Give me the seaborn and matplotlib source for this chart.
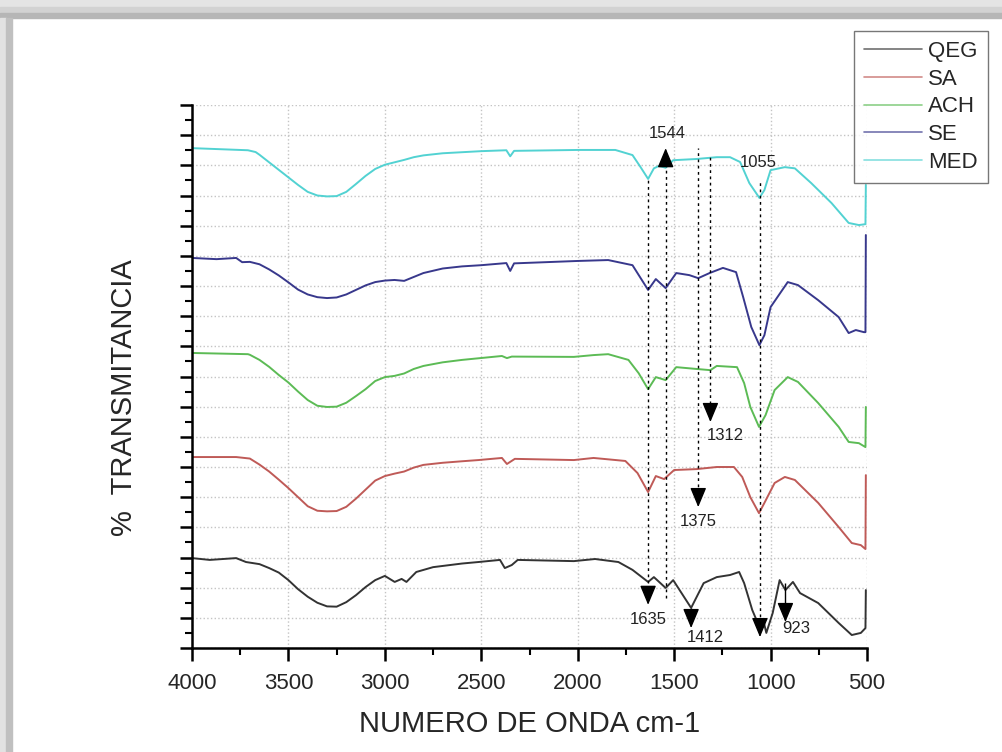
import pandas as pd
import matplotlib.pyplot as plt
import seaborn as sns
from matplotlib.patches import Rectangle
from matplotlib.ticker import MultipleLocator, NullFormatter

# FTIR spectra, values (stacked, arbitrary offset units)
qeg_x = [4000, 3908, 3771, 3720, 3700, 3650, 3600, 3550, 3500, 3450, 3400, 3350, 3300, 3250, 3200, 3150,
         3100, 3050, 3000, 2949, 2913, 2888, 2837, 2750, 2600, 2515, 2403, 2378, 2342, 2311, 2020, 1910,
         1789, 1716, 1635, 1605, 1544, 1505, 1412, 1347, 1279, 1210, 1163, 1137, 1095, 1062, 1048, 1038,
         1022, 989, 953, 923, 884, 847, 753, 647, 579, 532, 508, 506]
qeg_y = [2.98, 2.92, 2.98, 2.85, 2.83, 2.78, 2.65, 2.50, 2.25, 1.95, 1.70, 1.50, 1.38, 1.37, 1.52, 1.75,
         2.02, 2.25, 2.39, 2.19, 2.29, 2.19, 2.52, 2.68, 2.80, 2.85, 2.92, 2.65, 2.75, 2.92, 2.88, 2.95,
         2.85, 2.59, 2.19, 2.35, 1.99, 2.25, 1.33, 2.15, 2.35, 2.42, 2.52, 2.15, 1.26, 0.76, 0.66, 0.93,
         0.50, 1.16, 2.25, 1.92, 2.19, 1.82, 1.49, 0.83, 0.43, 0.50, 0.66, 1.92]

sa_x = [4000, 3771, 3700, 3650, 3600, 3550, 3500, 3450, 3400, 3350, 3300, 3250, 3200, 3150, 3100, 3050,
        3000, 2950, 2900, 2850, 2800, 2700, 2600, 2515, 2393, 2367, 2326, 2020, 1918, 1753, 1690, 1635,
        1595, 1552, 1500, 1384, 1279, 1190, 1147, 1105, 1060, 1032, 979, 926, 874, 753, 647, 579, 532,
        508, 506]
sa_y = [6.33, 6.33, 6.28, 6.08, 5.85, 5.58, 5.30, 5.00, 4.70, 4.55, 4.53, 4.54, 4.68, 4.95, 5.25, 5.55,
        5.70, 5.78, 5.85, 5.98, 6.07, 6.14, 6.19, 6.23, 6.30, 6.10, 6.27, 6.23, 6.30, 6.20, 5.80, 5.17,
        5.70, 5.60, 5.90, 5.93, 6.00, 6.00, 5.67, 5.00, 4.47, 4.81, 5.47, 5.67, 5.57, 4.81, 4.01, 3.48, 3.41,
        3.28, 5.73]

ach_x = [4000, 3710, 3700, 3650, 3600, 3550, 3500, 3450, 3400, 3350, 3300, 3250, 3200, 3150, 3100, 3050,
         3000, 2950, 2900, 2850, 2800, 2700, 2600, 2505, 2393, 2367, 2342, 2020, 1918, 1842, 1737, 1684,
         1635, 1595, 1544, 1489, 1384, 1312, 1279, 1174, 1137, 1105, 1060, 1026, 979, 911, 858, 753, 647,
         595, 542, 508, 506]
ach_y = [9.78, 9.74, 9.72, 9.55, 9.32, 9.05, 8.80, 8.50, 8.22, 8.03, 7.99, 8.00, 8.13, 8.35, 8.58, 8.85,
         8.98, 9.02, 9.10, 9.25, 9.35, 9.47, 9.55, 9.61, 9.68, 9.61, 9.66, 9.65, 9.71, 9.74, 9.55, 9.11,
         8.58, 8.98, 8.88, 9.31, 9.25, 9.21, 9.35, 9.31, 8.78, 7.99, 7.33, 7.72, 8.55, 8.98, 8.82, 8.12,
         7.33, 6.83, 6.79, 6.66, 7.99]

se_x = [4000, 3873, 3771, 3740, 3700, 3650, 3600, 3550, 3500, 3450, 3400, 3350, 3300, 3250, 3200, 3150,
        3100, 3050, 3000, 2950, 2900, 2850, 2800, 2700, 2600, 2500, 2370, 2350, 2330, 2000, 1842, 1716,
        1635, 1595, 1544, 1489, 1421, 1375, 1316, 1247, 1179, 1142, 1100, 1058, 1032, 1000, 911, 858, 753,
        647, 595, 558, 516, 508, 506]
se_y = [12.93, 12.89, 12.93, 12.79, 12.80, 12.72, 12.55, 12.35, 12.12, 11.88, 11.72, 11.63, 11.60, 11.62,
        11.72, 11.87, 12.02, 12.13, 12.18, 12.20, 12.17, 12.30, 12.43, 12.58, 12.65, 12.69, 12.76, 12.50,
        12.75, 12.83, 12.86, 12.69, 11.87, 12.23, 11.93, 12.43, 12.36, 12.26, 12.43, 12.60, 12.46, 11.63,
        10.64, 10.04, 10.37, 11.30, 12.13, 12.03, 11.53, 10.97, 10.44, 10.54, 10.47, 10.47, 13.69]

med_x = [4000, 3710, 3670, 3650, 3600, 3550, 3500, 3450, 3400, 3350, 3300, 3250, 3200, 3150, 3100, 3050,
         3000, 2950, 2900, 2850, 2800, 2700, 2500, 2370, 2350, 2330, 2000, 1805, 1716, 1674, 1635, 1605,
         1579, 1544, 1505, 1384, 1279, 1210, 1158, 1110, 1058, 1032, 1000, 926, 874, 789, 684, 595, 542,
         508, 506]
med_y = [16.57, 16.50, 16.44, 16.35, 16.10, 15.85, 15.60, 15.35, 15.12, 15.00, 14.97, 14.98, 15.12, 15.38,
         15.65, 15.88, 16.02, 16.10, 16.18, 16.27, 16.33, 16.40, 16.47, 16.50, 16.30, 16.48, 16.51, 16.51,
         16.34, 15.94, 15.55, 15.90, 15.98, 15.92, 16.17, 16.21, 16.27, 16.27, 16.11, 15.41, 14.92, 15.18,
         15.84, 15.94, 15.90, 15.41, 14.75, 14.09, 14.02, 14.05, 15.35]

names = ['QEG', 'SA', 'ACH', 'SE', 'MED']
colors = ['#333333', '#bf5a57', '#5cbb55', '#38388c', '#52d2d2']

# marked bands
peak_labels = ['1635', '1544', '1375', '1312', '1055', '1412', '923']

series = [(qeg_x, qeg_y), (sa_x, sa_y), (ach_x, ach_y), (se_x, se_y), (med_x, med_y)]

sns.set_style('white')
plt.rcParams['font.family'] = ['Liberation Sans', 'DejaVu Sans']

fig = plt.figure(figsize=(10.02, 7.52), dpi=100)
ax = fig.add_axes([192/1002, 1-648/752, 675/1002, 543/752])

#spectra
for (xs, ys), name, col in zip(series, names, colors):
    df = pd.DataFrame({'x': xs, 'y': ys})
    sns.lineplot(data=df, x='x', y='y', sort=False, estimator=None, color=col,
                 linewidth=1.4, label=name, ax=ax)

ax.set_xlim(4000, 500)
ax.set_ylim(0, 18)
ax.xaxis.set_major_locator(MultipleLocator(500))
ax.xaxis.set_minor_locator(MultipleLocator(250))
ax.yaxis.set_major_locator(MultipleLocator(1))
ax.yaxis.set_minor_locator(MultipleLocator(0.5))
ax.yaxis.set_major_formatter(NullFormatter())
ax.grid(True, which='major', color='#c4c4c4', linestyle=':', linewidth=1.0)
ax.set_axisbelow(True)
sns.despine(ax=ax)
for s in ['left', 'bottom']:
    ax.spines[s].set_linewidth(1.8)
    ax.spines[s].set_color('black')
ax.tick_params(which='major', direction='out', length=9, width=1.8, color='black', left=True, bottom=True)
ax.tick_params(which='minor', direction='out', length=5, width=1.5, color='black', left=True, bottom=True)
ax.tick_params(axis='x', labelsize=16, pad=9)

ax.set_xlabel('NUMERO DE ONDA cm-1', fontsize=21)
ax.set_ylabel('%  TRANSMITANCIA', fontsize=21)
ax.xaxis.set_label_coords(0.5, -0.114)
ax.yaxis.set_label_coords(-0.08, 0.462)

#dotted guides and arrows
dots = (0, (2, 2.5))
ax.vlines([1635, 1544, 1375, 1312, 1055], [2.15, 1.66, 5.14, 7.89, 0.83],
          [15.55, 16.27, 16.57, 16.34, 15.45], colors='black', linestyles=dots, linewidth=1)
ax.vlines([1412, 923], [0.9, 1.1], [1.33, 2.15], colors='black', linewidth=1)
arrows = [(1635, 1.95, 1.43), (1544, 16.27, 16.57), (1375, 5.14, 4.67), (1312, 7.89, 7.49),
          (1055, 0.83, 0.36), (1412, 1.05, 0.66), (923, 1.25, 0.86)]
for x, y0, y1 in arrows:
    ax.annotate('', xy=(x, y1), xytext=(x, y0),
                arrowprops=dict(arrowstyle='-|>,head_length=0.6,head_width=0.25', color='black',
                                lw=1, mutation_scale=20, shrinkA=0, shrinkB=0))
label_pos = [(1635, 0.96), (1535, 17.07), (1375, 4.18), (1237, 7.06), (1065, 16.08), (1340, 0.36), (868, 0.66)]
for txt, (x, y) in zip(peak_labels, label_pos):
    ax.text(x, y, txt, fontsize=12, ha='center', va='center', color='#222222')

leg = ax.legend(loc='upper right', bbox_to_anchor=(988/1002, 1-31/752), bbox_transform=fig.transFigure,
                frameon=True, fancybox=False, edgecolor='#555555', fontsize=16, handlelength=2.6,
                handletextpad=0.3, labelspacing=0.3, borderpad=0.45, borderaxespad=0)
leg.get_frame().set_linewidth(1.0)
for line in leg.get_lines():
    line.set_linewidth(1.2)
    line.set_alpha(0.7)

#grey picture frame at top and left
frame = [((0, 1-7/752), 1, 7/752, '#e4e4e4'), ((0, 1-13/752), 1, 6/752, '#d2d2d2'),
         ((0, 1-18/752), 1, 5/752, '#b6b6b6'), ((0, 0), 6/1002, 1-18/752, '#e2e2e2'),
         ((6/1002, 0), 6/1002, 1-18/752, '#c0c0c0')]
for xy, w, h, c in frame:
    fig.add_artist(Rectangle(xy, w, h, transform=fig.transFigure, color=c, zorder=-1))

fig.savefig('out.png', dpi=100)
